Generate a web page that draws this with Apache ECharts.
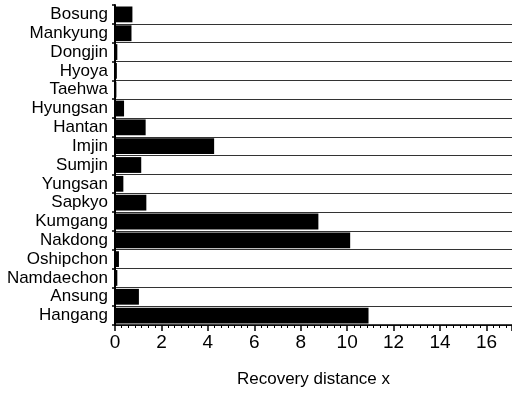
<!DOCTYPE html>
<html>
<head>
<meta charset="utf-8">
<script src="https://cdn.jsdelivr.net/npm/echarts@6/dist/echarts.min.js"></script>
<style>html,body{margin:0;padding:0;background:#fff}#c{width:512px;height:393px}</style>
</head>
<body>
<div id="c"></div>
<script>
var categories = ['Bosung','Mankyung','Dongjin','Hyoya','Taehwa','Hyungsan','Hantan','Imjin','Sumjin','Yungsan','Sapkyo','Kumgang','Nakdong','Oshipchon','Namdaechon','Ansung','Hangang'];
var values = [0.75,0.71,0.10,0.08,0.06,0.39,1.32,4.27,1.13,0.36,1.35,8.76,10.13,0.17,0.10,1.03,10.92];
var xTitle = 'Recovery distance x';

var chart = echarts.init(document.getElementById('c'));
chart.setOption({
  animation: false,
  grid: {left: 115, right: 0, top: 5, bottom: 63, containLabel: false},
  xAxis: {
    type: 'value', position: 'bottom', min: 0, max: 17.1, interval: 2,
    name: xTitle, nameLocation: 'middle', nameGap: 46,
    nameTextStyle: {fontFamily: 'Liberation Sans, Arial', fontSize: 17, color: '#000'},
    axisLine: {show: true, lineStyle: {color: '#000', width: 1.5}},
    axisTick: {show: true, length: 6, lineStyle: {color: '#000', width: 1.5}},
    minorTick: {show: true, splitNumber: 7, length: 3, lineStyle: {color: '#000', width: 1}},
    axisLabel: {fontFamily: 'Liberation Sans, Arial', fontSize: 19, color: '#000', margin: 8, showMaxLabel: false},
    splitLine: {show: false}
  },
  yAxis: {
    type: 'category', data: categories, inverse: true,
    axisLine: {show: true, lineStyle: {color: '#000', width: 2}},
    axisTick: {show: true, interval: 0, length: 3, lineStyle: {color: '#000', width: 1.5}},
    axisLabel: {interval: 0, fontFamily: 'Liberation Sans, Arial', fontSize: 17, color: '#000', margin: 7},
    splitLine: {show: true, interval: 0, showMinLine: false, lineStyle: {color: '#333', width: 1}}
  },
  series: [{
    type: 'bar', data: values, barCategoryGap: '16%',
    itemStyle: {color: '#000'}
  }]
});
</script>
</body>
</html>
